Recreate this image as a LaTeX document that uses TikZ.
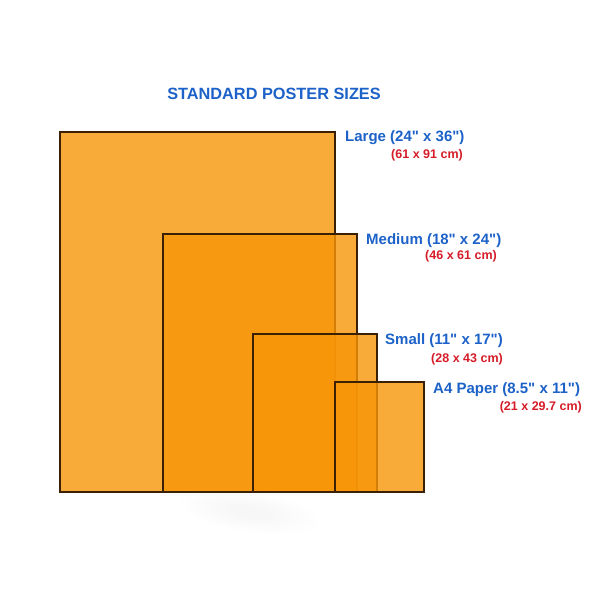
\documentclass[tikz,border=0pt]{standalone}
\usepackage{fontspec}
\setmainfont{Liberation Sans}[Ligatures=TeXOff]
\definecolor{poster}{RGB}{248,150,8}
\definecolor{edge}{RGB}{58,32,4}
\definecolor{lblue}{RGB}{28,98,200}
\definecolor{lred}{RGB}{214,28,40}
\tikzset{
  sheet/.style={fill=poster, fill opacity=0.8, draw=edge, draw opacity=1, line width=1.7pt},
  sizelabel/.style={anchor=base west, inner sep=0pt, text=lblue, font=\fontsize{15}{17}\selectfont\bfseries},
  cmlabel/.style={anchor=base east, inner sep=0pt, text=lred, font=\fontsize{12.5}{14}\selectfont\bfseries},
  titlelabel/.style={anchor=base, inner sep=0pt, text=lblue, font=\fontsize{16.3}{18}\selectfont\bfseries},
  smudge/.style={fill=black!60!red, fill opacity=0.004, draw=none}
}
\begin{document}
\begin{tikzpicture}[x=1pt,y=-1pt]
\path[fill=white] (0,0) rectangle (601,601);
\useasboundingbox (0,0) rectangle (601,601);
% faint soft reflection below the sheets
\foreach \r in {1.0,0.9,0.8,0.7,0.6,0.5,0.4,0.3}
  \path[smudge, rotate around={-8:(250,512)}] (250,512) ellipse ({70*\r} and {20*\r});
% sheets
\draw[sheet] (60,132) rectangle (335,492);
\draw[sheet] (163,234) rectangle (357,492);
\draw[sheet] (253,334) rectangle (377,492);
\draw[sheet] (335,382) rectangle (424,492);
% title
\node[titlelabel] (title) at (274,100) {STANDARD POSTER SIZES};
% labels
\node[sizelabel] (large) at (345,142) {Large (24" x 36")};
\node[cmlabel] (largecm) at (463,159) {(61 x 91 cm)};
\node[sizelabel] (medium) at (366,244) {Medium (18" x 24")};
\node[cmlabel] (mediumcm) at (497,259) {(46 x 61 cm)};
\node[sizelabel] (small) at (385,344) {Small (11" x 17")};
\node[cmlabel] (smallcm) at (503,362) {(28 x 43 cm)};
\node[sizelabel] (afour) at (433,393) {A4 Paper (8.5" x 11")};
\node[cmlabel] (afourcm) at (582,410) {(21 x 29.7 cm)};
\end{tikzpicture}
\end{document}
